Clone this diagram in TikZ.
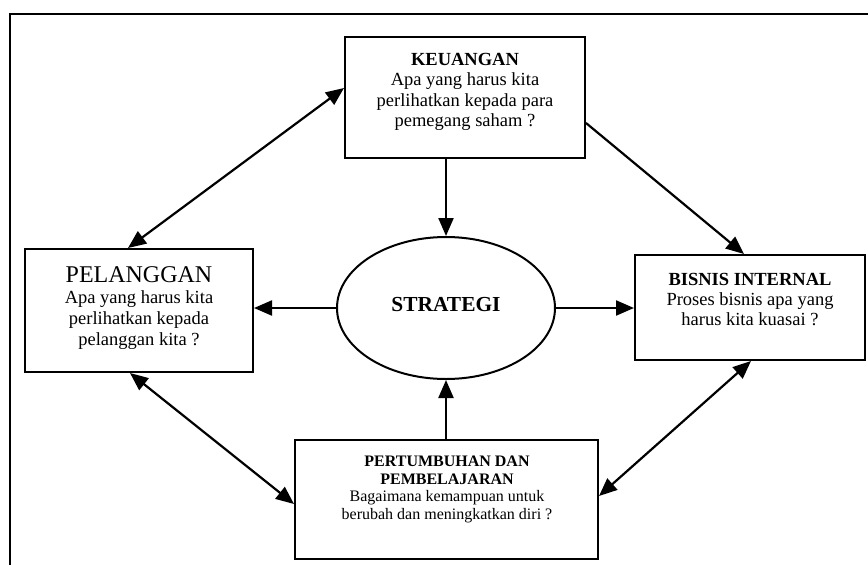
\documentclass[tikz,border=0pt]{standalone}
\usepackage{fontspec}
\setmainfont{Liberation Serif}
\usetikzlibrary{arrows.meta,calc,shapes.geometric}
\begin{document}
\begin{tikzpicture}[x=1pt,y=-1pt,
  boxnode/.style 2 args={draw,rectangle,line width=2pt,inner sep=0pt,
    minimum width=#1,minimum height=#2},
  txt/.style={anchor=north,align=center,inner sep=0pt},
  tip/.tip={Triangle[length=18pt,width=15pt]},
  link/.style={line width=2.2pt,-tip},
  dlink/.style={line width=2.2pt,tip-tip}
]
\useasboundingbox (0,0) rectangle (868,565);

% open outer frame
\draw[line width=2pt] (10,575) -- (10,14) -- (880,14);

% boxes
\node[boxnode={240pt}{121pt}] (keu) at (465,97.5) {};
\node[boxnode={228pt}{123pt}] (pel) at (139,310.5) {};
\node[boxnode={230pt}{105pt}] (bis) at (750,307.5) {};
\node[boxnode={303pt}{119pt}] (per) at (446.5,499.5) {};
\node[draw,ellipse,line width=2pt,minimum width=218pt,minimum height=142pt,inner sep=0pt] (strat) at (446,308) {};

% box texts
\node[txt,font=\fontsize{18.5}{20.3}\selectfont] (keutxt) at (465,53)
  {\textbf{KEUANGAN}\\Apa yang harus kita\\perlihatkan kepada para\\pemegang saham ?};
\node[txt,font=\fontsize{18.5}{21}\selectfont] (peltxt) at (139,266)
  {{\fontsize{24}{26}\selectfont PELANGGAN}\\Apa yang harus kita\\perlihatkan kepada\\pelanggan kita ?};
\node[txt,font=\fontsize{18.5}{20}\selectfont] (bistxt) at (750,273)
  {\textbf{BISNIS INTERNAL}\\Proses bisnis apa yang\\harus kita kuasai ?};
\node[txt,font=\fontsize{16}{17.5}\selectfont] (pertxt) at (447,456)
  {\textbf{PERTUMBUHAN DAN}\\\textbf{PEMBELAJARAN}\\Bagaimana kemampuan untuk\\berubah dan meningkatkan diri ?};
\node[anchor=base,inner sep=0pt,font=\fontsize{21.4}{24}\selectfont\bfseries] (strattxt) at (446,311) {STRATEGI};

% connectors
\draw[link] (strat.north |- keu.south) -- (strat.north);
\draw[link] (per.north -| strat.south) -- (strat.south);
\draw[link] (strat.west) -- (strat.west -| pel.east);
\draw[link] (strat.east) -- (strat.east -| bis.west);
\draw[dlink] ($(keu.north west)+(0,52)$) -- ($(pel.north west)+(104,0)$);
\draw[link] ($(keu.north east)+(0,87)$) -- ($(bis.north west)+(110,0)$);
\draw[dlink] ($(pel.south west)+(106,0)$) -- ($(per.north west)+(0,65)$);
\draw[dlink] ($(bis.south west)+(117,0)$) -- ($(per.north east)+(0,57)$);
\end{tikzpicture}
\end{document}
